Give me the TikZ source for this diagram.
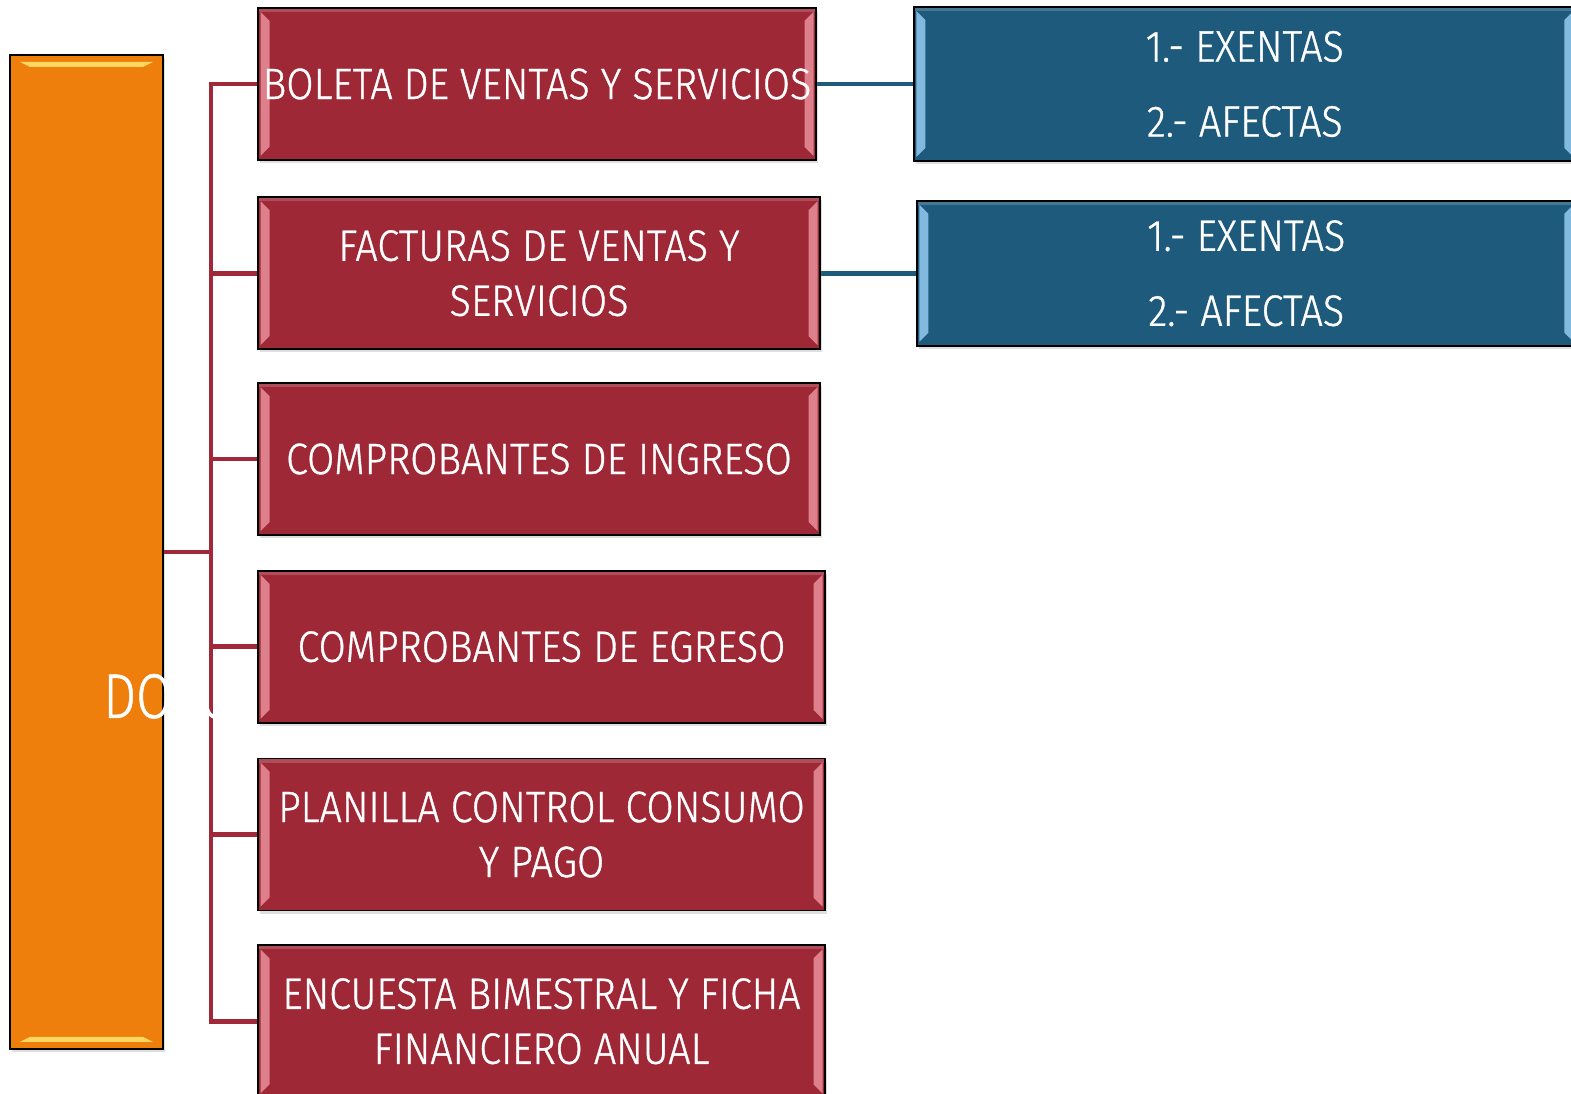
\documentclass[tikz,border=0pt]{standalone}
\usepackage{fontspec}
\setmainfont{Fira Sans Light}[FakeStretch=0.90,FakeBold=0.8]
\newfontfamily\titlefont{Fira Sans Light}[FakeStretch=0.82,FakeBold=0.8]
\usetikzlibrary{positioning,calc,shadows}

\definecolor{docorange}{RGB}{238,127,12}
\definecolor{docyellow}{RGB}{255,214,96}
\definecolor{docred}{RGB}{158,40,54}
\definecolor{docpink}{RGB}{222,128,140}
\definecolor{docblue}{RGB}{30,90,124}
\definecolor{docsky}{RGB}{130,185,222}
\definecolor{linered}{RGB}{160,40,56}
\definecolor{lineblue}{RGB}{30,90,124}

\pgfdeclarelayer{back}
\pgfdeclarelayer{mid}
\pgfsetlayers{back,mid,main}

% light strips on the left and right inner edges
\newcommand{\sidebevels}[1]{%
  \fill[#1] ($(path picture bounding box.north west)+(0.05,-0.08)$) -- ++(0.18,-0.18)
    -- ($(path picture bounding box.south west)+(0.23,0.26)$) -- ++(-0.18,-0.18) -- cycle;
  \fill[#1] ($(path picture bounding box.north east)+(-0.05,-0.08)$) -- ++(-0.18,-0.18)
    -- ($(path picture bounding box.south east)+(-0.23,0.26)$) -- ++(0.18,-0.18) -- cycle;
  \fill[white,opacity=0.18] (path picture bounding box.north west) rectangle
    ($(path picture bounding box.north east)+(0,-0.08)$);}
% light strips on the top and bottom inner edges
\newcommand{\capbevels}[1]{%
  \fill[#1] ($(path picture bounding box.north west)+(0.2,-0.14)$) -- ++(0.2,-0.1)
    -- ($(path picture bounding box.north east)+(-0.4,-0.24)$) -- ++(0.2,0.1) -- cycle;
  \fill[#1] ($(path picture bounding box.south west)+(0.2,0.14)$) -- ++(0.2,0.1)
    -- ($(path picture bounding box.south east)+(-0.4,0.24)$) -- ++(0.2,-0.1) -- cycle;}

\begin{document}
\begin{tikzpicture}[
  docbox/.style={rectangle,draw=black,line width=1pt,fill=docorange,
    minimum width=3.06cm,minimum height=19.88cm,
    drop shadow={opacity=0.25,shadow xshift=0.04,shadow yshift=-0.06},
    path picture={\capbevels{docyellow}}},
  typebox/.style={rectangle,draw=black,line width=1pt,fill=docred,text=white,
    minimum height=3.04cm,align=center,inner sep=0pt,
    font=\fontsize{25}{31.3}\selectfont,
    drop shadow={opacity=0.25,shadow xshift=0.04,shadow yshift=-0.06},
    path picture={\sidebevels{docpink}}},
  kindbox/.style={rectangle,draw=black,line width=1pt,fill=docblue,text=white,
    align=center,inner sep=0pt,
    font=\fontsize{25}{42.7}\selectfont,
    drop shadow={opacity=0.25,shadow xshift=0.04,shadow yshift=-0.06},
    path picture={\sidebevels{docsky}}},
  redline/.style={linered,line width=2.6pt},
  blueline/.style={lineblue,line width=2.6pt}]

\useasboundingbox (0,0) rectangle (31.42,21.88);

\begin{pgfonlayer}{back}
\node[docbox] (docs) at (1.73,10.84) {};
\end{pgfonlayer}

\node[typebox,minimum width=11.16cm] (boleta) at (10.74,20.20) {BOLETA DE VENTAS Y SERVICIOS};
\node[typebox,minimum width=11.24cm,below=0.71cm of boleta.south west,anchor=north west] (facturas) {FACTURAS DE VENTAS Y\\SERVICIOS};
\node[typebox,minimum width=11.24cm,below=0.64cm of facturas.south west,anchor=north west] (ingreso) {COMPROBANTES DE INGRESO};
\node[typebox,minimum width=11.34cm,below=0.68cm of ingreso.south west,anchor=north west] (egreso) {COMPROBANTES DE EGRESO};
\node[typebox,minimum width=11.34cm,below=0.68cm of egreso.south west,anchor=north west] (planilla) {PLANILLA CONTROL CONSUMO\\Y PAGO};
\node[typebox,minimum width=11.34cm,below=0.66cm of planilla.south west,anchor=north west] (encuesta) {ENCUESTA BIMESTRAL Y FICHA\\FINANCIERO ANUAL};

\node[kindbox,minimum width=13.24cm,minimum height=3.08cm,right=1.92cm of boleta] (boletakind) {1.- EXENTAS\\2.- AFECTAS};
\node[kindbox,minimum width=13.18cm,minimum height=2.90cm,right=1.90cm of facturas] (facturaskind) {1.- EXENTAS\\2.- AFECTAS};

\begin{pgfonlayer}{back}
\draw[redline] (docs.east) -- ++(0.94,0) coordinate (trunk);
\draw[redline] (boleta.west) -| (trunk) |- (encuesta.west);
\foreach \n in {facturas,ingreso,egreso,planilla}
  \draw[redline] (\n.west) -- (trunk |- \n.west);
\draw[blueline] (boleta.east) -- (boletakind.west);
\draw[blueline] (facturas.east) -- (facturaskind.west);
\end{pgfonlayer}

\begin{pgfonlayer}{mid}
\node[font=\titlefont\fontsize{36}{40}\selectfont,text=white,anchor=base west,inner sep=0pt] (doctitle) at (2.06,7.52) {DOCUMENTOS};
\end{pgfonlayer}

\end{tikzpicture}
\end{document}
